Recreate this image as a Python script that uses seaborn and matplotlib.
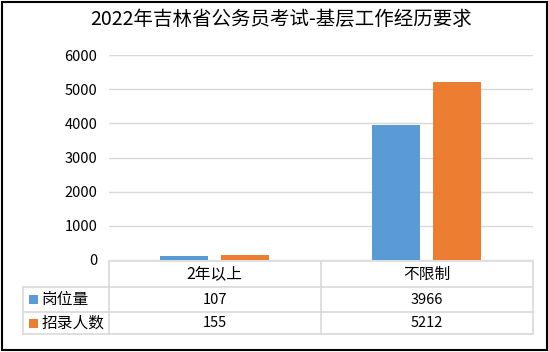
import matplotlib
matplotlib.use("Agg")
import matplotlib.pyplot as plt
import matplotlib.transforms as mtransforms
from matplotlib.lines import Line2D
from matplotlib.patches import Rectangle
import seaborn as sns
import pandas as pd

title = "2022年吉林省公务员考试-基层工作经历要求"
categories = ["2年以上", "不限制"]
series_names = ["岗位量", "招录人数"]
posts = [107, 3966]
recruits = [155, 5212]
yticks = [0, 1000, 2000, 3000, 4000, 5000, 6000]
colors = ["#5B9BD5", "#ED7D31"]

df = pd.DataFrame({
    "category": categories * 2,
    "series": [series_names[0]] * 2 + [series_names[1]] * 2,
    "value": posts + recruits,
})

sns.set_theme(style="white")
plt.rcParams["font.family"] = ["Noto Sans CJK SC", "DejaVu Sans"]

W, H = 548, 352
fig = plt.figure(figsize=(W / 100, H / 100), dpi=100)

def fx(px):
    return px / W

def fy(py):
    return 1 - py / H

ax_l, ax_r, ax_t, ax_b = 108.5, 532.5, 55.3, 259.8
ax = fig.add_axes([fx(ax_l), fy(ax_b), fx(ax_r - ax_l), (ax_b - ax_t) / H])

sns.barplot(data=df, x="category", y="value", hue="series", palette=colors,
            width=0.57, gap=0.207, saturation=1, legend=False, ax=ax)
for p in ax.patches:
    p.set_edgecolor("none")

ax.set_xlim(-0.5, 1.5)
ax.set_ylim(0, 6000)
ax.set_yticks(yticks)
ax.set_yticklabels([str(t) for t in yticks], fontsize=10.5, color="#000000")
ax.set_xticks([])
ax.set_xlabel("")
ax.set_ylabel("")
ax.tick_params(axis="y", length=0, pad=8)
for s in ax.spines.values():
    s.set_visible(False)
ax.yaxis.grid(True, color="#D9D9D9", linewidth=1)
ax.set_axisbelow(True)

# Title
fig.text(fx(281.5), fy(19.5), title, ha="center", va="center", fontsize=14, color="#000000")

# Data table
line_c = "#D9D9D9"
tbl_top, r1, r2, tbl_bot = 260.7, 287.3, 311.7, 334.3
lbl_l, col_mid = 23.3, 320.7

def hline(x0, x1, y):
    fig.add_artist(Line2D([fx(x0), fx(x1)], [fy(y), fy(y)], color=line_c, lw=1.2, transform=fig.transFigure))

def vline(x, y0, y1):
    fig.add_artist(Line2D([fx(x), fx(x)], [fy(y0), fy(y1)], color=line_c, lw=1.2, transform=fig.transFigure))

hline(ax_l, ax_r, tbl_top)
hline(lbl_l, ax_r, r1)
hline(lbl_l, ax_r, r2)
hline(lbl_l, ax_r, tbl_bot)
vline(ax_l, tbl_top, tbl_bot)
vline(col_mid, tbl_top, tbl_bot)
vline(ax_r, tbl_top, tbl_bot)
vline(lbl_l, r1, tbl_bot)

blend = mtransforms.blended_transform_factory(ax.transData, fig.transFigure)
row_centers = [(tbl_top + r1) / 2, (r1 + r2) / 2, (r2 + tbl_bot) / 2]
for i, cat in enumerate(categories):
    fig.text(i, fy(row_centers[0]), cat, transform=blend, ha="center", va="center",
             fontsize=11.3, color="#000000")
for j, vals in enumerate([posts, recruits]):
    yc = row_centers[j + 1]
    for i, v in enumerate(vals):
        fig.text(i, fy(yc), str(v), transform=blend, ha="center", va="center",
                 fontsize=10.5, color="#000000")
    fig.add_artist(Rectangle((fx(29.3), fy(yc + 4.5)), fx(9), 9 / H,
                             facecolor=colors[j], edgecolor="none", transform=fig.transFigure))
    fig.text(fx(41.5), fy(yc), series_names[j], ha="left", va="center",
             fontsize=11.3, color="#000000")

# Outer border
fig.add_artist(Rectangle((fx(1.5), fy(350.3)), fx(545.2), (350.3 - 1.5) / H,
                         facecolor="none", edgecolor="#000000", lw=1.5, transform=fig.transFigure))

fig.savefig("out.png", dpi=100)
